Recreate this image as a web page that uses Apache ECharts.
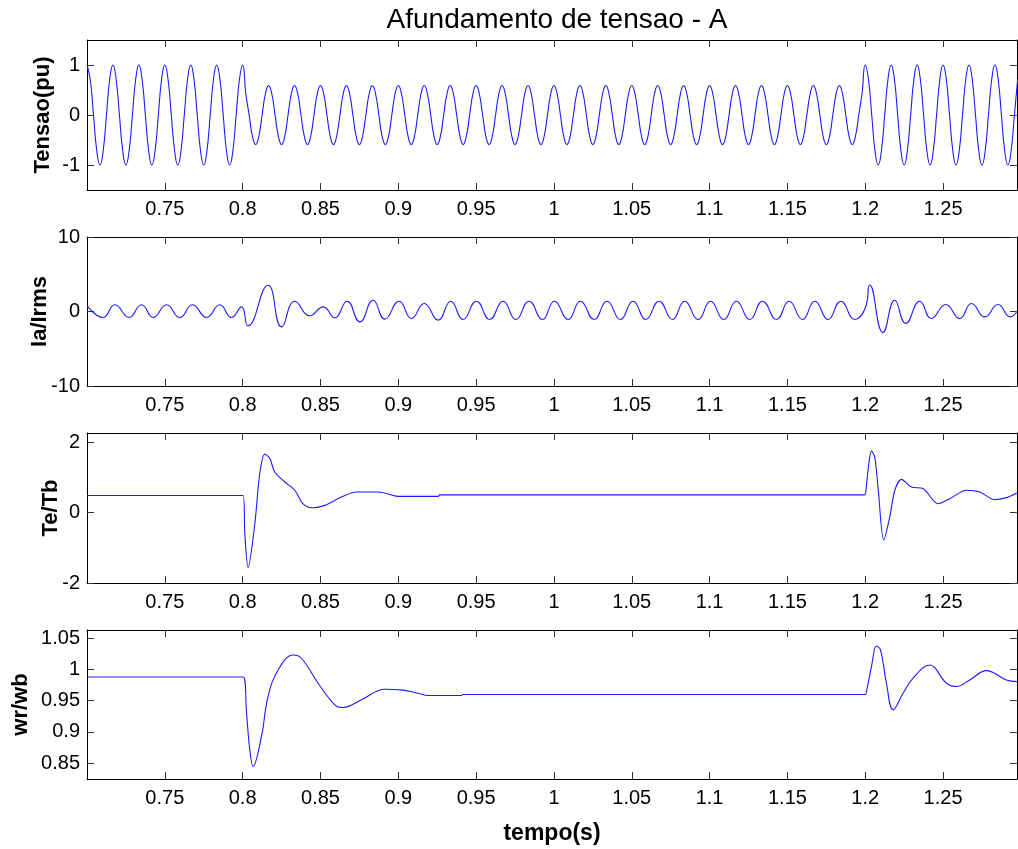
<!DOCTYPE html>
<html>
<head>
<meta charset="utf-8">
<script src="https://cdn.jsdelivr.net/npm/echarts@6/dist/echarts.min.js"></script>
<style>
html,body{margin:0;padding:0;background:#fff;}
#chart{width:1018px;height:849px;}
</style>
</head>
<body>
<div id="chart"></div>
<script>
// ---------- DATA ----------
const titleText = 'Afundamento de tensao - A';
const xName = 'tempo(s)';
const yNames = ['Tensao(pu)', 'Ia/Irms', 'Te/Tb', 'wr/wb'];
const xTicks = [0.75, 0.8, 0.85, 0.9, 0.95, 1, 1.05, 1.1, 1.15, 1.2, 1.25];
const yTicks1 = [-1, 0, 1];
const yTicks2 = [-10, 0, 10];
const yTicks3 = [-2, 0, 2];
const yTicks4 = [0.85, 0.9, 0.95, 1, 1.05];

// Voltage (pu), sampled every 1/8 cycle of 60 Hz starting at t = 0.7 s
const voltageStart = 0.7;
const voltageStep = 1 / 480;
const voltage = [
  1,0.71,0,-0.71,-1,-0.71,0,0.71,
  1,0.71,0,-0.71,-1,-0.71,0,0.71,
  1,0.71,0,-0.71,-1,-0.71,0,0.71,
  1,0.71,0,-0.71,-1,-0.71,0,0.71,
  1,0.71,0,-0.71,-1,-0.71,0,0.71,
  1,0.71,0,-0.71,-1,-0.71,0,0.71,
  1,
  0.42,0,-0.42,-0.59,-0.42,0,0.42,
  0.59,0.42,0,-0.42,-0.59,-0.42,0,0.42,
  0.59,0.42,0,-0.42,-0.59,-0.42,0,0.42,
  0.59,0.42,0,-0.42,-0.59,-0.42,0,0.42,
  0.59,0.42,0,-0.42,-0.59,-0.42,0,0.42,
  0.59,0.42,0,-0.42,-0.59,-0.42,0,0.42,
  0.59,0.42,0,-0.42,-0.59,-0.42,0,0.42,
  0.59,0.42,0,-0.42,-0.59,-0.42,0,0.42,
  0.59,0.42,0,-0.42,-0.59,-0.42,0,0.42,
  0.59,0.42,0,-0.42,-0.59,-0.42,0,0.42,
  0.59,0.42,0,-0.42,-0.59,-0.42,0,0.42,
  0.59,0.42,0,-0.42,-0.59,-0.42,0,0.42,
  0.59,0.42,0,-0.42,-0.59,-0.42,0,0.42,
  0.59,0.42,0,-0.42,-0.59,-0.42,0,0.42,
  0.59,0.42,0,-0.42,-0.59,-0.42,0,0.42,
  0.59,0.42,0,-0.42,-0.59,-0.42,0,0.42,
  0.59,0.42,0,-0.42,-0.59,-0.42,0,0.42,
  0.59,0.42,0,-0.42,-0.59,-0.42,0,0.42,
  0.59,0.42,0,-0.42,-0.59,-0.42,0,0.42,
  0.59,0.42,0,-0.42,-0.59,-0.42,0,0.42,
  0.59,0.42,0,-0.42,-0.59,-0.42,0,0.42,
  0.59,0.42,0,-0.42,-0.59,-0.42,0,0.42,
  0.59,0.42,0,-0.42,-0.59,-0.42,0,0.42,
  0.59,0.42,0,-0.42,-0.59,-0.42,0,0.42,
  1,0.71,0,-0.71,-1,-0.71,0,0.71,
  1,0.71,0,-0.71,-1,-0.71,0,0.71,
  1,0.71,0,-0.71,-1,-0.71,0,0.71,
  1,0.71,0,-0.71,-1,-0.71,0,0.71,
  1,0.71,0,-0.71,-1,-0.71,0,0.71,
  1,0.71,0,-0.71,-1,-0.71,0,0.71
];

// Current Ia/Irms: peaks and troughs
const currentT = [
  0.7000,0.7103,0.7179,0.7270,0.7350,0.7425,0.7511,0.7596,0.7678,0.7768,0.7853,0.7928,
  0.7993,0.8034,0.8163,0.8250,0.8335,0.8431,0.8517,0.8592,0.8671,0.8753,0.8838,0.8913,
  0.9005,0.9085,0.9166,0.9256,0.9337,0.9416,0.9502,0.9587,0.9673,0.9755,0.9840,0.9926,
  1.0003,1.0091,1.0170,1.0258,1.0341,1.0427,1.0508,1.0590,1.0675,1.0761,1.0840,1.0926,
  1.1006,1.1091,1.1172,1.1258,1.1340,1.1430,1.1511,1.1597,1.1676,1.1761,1.1843,1.1933,
  1.1999,1.2029,1.2114,1.2190,1.2260,1.2350,1.2425,1.2517,1.2607,1.2682,1.2768,1.2853,
  1.2932,1.2975
];
const currentV = [
  0.80,-0.80,0.90,-0.80,0.90,-0.80,0.90,-0.80,0.90,-0.80,0.90,-0.80,
  0.62,-1.93,3.52,-2.06,1.38,-0.58,0.62,-0.85,1.38,-1.39,1.51,-1.03,
  1.38,-0.94,1.07,-1.16,1.38,-1.07,1.38,-1.07,1.38,-1.07,1.38,-1.07,
  1.38,-1.07,1.38,-1.07,1.38,-1.07,1.38,-1.07,1.38,-1.07,1.38,-1.07,
  1.38,-1.07,1.38,-1.07,1.38,-1.07,1.38,-1.07,1.38,-1.07,1.38,-1.07,
  0.40,3.55,-2.83,1.51,-1.60,1.38,-0.94,0.94,-0.94,1.07,-0.72,0.94,
  -0.72,0.00
];

// Electromagnetic torque Te/Tb
const torqueT = [
  0.7000,0.8003,0.8014,0.8035,0.8078,0.8110,0.8142,0.8174,0.8206,0.8271,0.8335,0.8388,
  0.8453,0.8528,0.8635,0.8731,0.8870,0.8945,0.8999,0.9256,0.9266,1.1995,1.2003,1.2018,
  1.2040,1.2061,1.2082,1.2119,1.2157,1.2190,1.2233,1.2297,1.2371,1.2468,1.2543,1.2650,
  1.2736,1.2832,1.2907,1.2975
];
const torqueV = [
  0.49,0.49,-0.60,-1.56,-0.32,1.12,1.67,1.55,1.16,0.875,0.64,0.255,
  0.14,0.21,0.445,0.59,0.59,0.52,0.465,0.465,0.51,0.51,0.59,1.21,
  1.76,1.59,0.73,-0.78,-0.13,0.64,0.95,0.73,0.69,0.255,0.40,0.64,
  0.59,0.37,0.43,0.56
];

// Rotor speed wr/wb
const speedT = [
  0.7000,0.8003,0.8025,0.8046,0.8067,0.8121,0.8163,0.8228,0.8324,0.8378,0.8485,0.8592,
  0.8645,0.8763,0.8913,0.9020,0.9127,0.9191,0.9406,0.9416,1.2000,1.2008,1.2040,1.2072,
  1.2098,1.2136,1.2179,1.2243,1.2307,1.2414,1.2522,1.2586,1.2671,1.2779,1.2907,1.2975
];
const speedV = [
  0.988,0.988,0.930,0.871,0.8446,0.8926,0.9566,0.9993,1.0233,1.018,0.978,0.9433,
  0.939,0.9513,0.9684,0.9673,0.962,0.9582,0.9582,0.960,0.960,0.9646,1.0046,1.0377,
  1.0313,0.978,0.9353,0.962,0.986,1.0073,0.978,0.9726,0.9833,0.9982,0.9833,0.9806
];

// ---------- CHART ----------
const X_MIN = 0.7, X_MAX = 1.2975;
const FONT = 'Liberation Sans, Arial, sans-serif';
const grids = [
  { top: 40, height: 150 },
  { top: 237, height: 149 },
  { top: 433, height: 150 },
  { top: 630, height: 149 }
];
const yRanges = [
  { min: -1.5, max: 1.5, ticks: yTicks1, gap: 33 },
  { min: -10, max: 10, ticks: yTicks2, gap: 36 },
  { min: -2, max: 2.27, ticks: yTicks3, gap: 25 },
  { min: 0.8244, max: 1.0633, ticks: yTicks4, gap: 55 }
];

const lineCol = '#000';
const xAxes = [], yAxes = [];
grids.forEach((g, i) => {
  const tickStyle = { show: true, inside: true, length: 7, lineStyle: { color: '#333', width: 1 } };
  xAxes.push({
    type: 'value', gridIndex: i, min: X_MIN, max: X_MAX, position: 'bottom',
    axisLine: { show: true, onZero: false, lineStyle: { color: lineCol, width: 1 } },
    axisTick: Object.assign({ customValues: xTicks }, tickStyle),
    axisLabel: { customValues: xTicks, color: '#000', fontSize: 20, fontFamily: FONT, margin: 9 },
    splitLine: { show: false },
    name: i === 3 ? xName : '', nameLocation: 'middle', nameGap: 43, nameMoveOverlap: false,
    nameTextStyle: { color: '#000', fontSize: 23, fontWeight: 'bold', fontFamily: FONT }
  });
  xAxes.push({
    type: 'value', gridIndex: i, min: X_MIN, max: X_MAX, position: 'top',
    axisLine: { show: true, onZero: false, lineStyle: { color: lineCol, width: 1 } },
    axisTick: Object.assign({ customValues: xTicks }, tickStyle),
    axisLabel: { show: false }, splitLine: { show: false }
  });
  const r = yRanges[i];
  yAxes.push({
    type: 'value', gridIndex: i, min: r.min, max: r.max, position: 'left',
    axisLine: { show: true, onZero: false, lineStyle: { color: lineCol, width: 1 } },
    axisTick: Object.assign({ customValues: r.ticks }, tickStyle),
    axisLabel: { customValues: r.ticks, color: '#000', fontSize: 20, fontFamily: FONT, margin: 7 },
    splitLine: { show: false },
    name: yNames[i], nameLocation: 'middle', nameGap: r.gap, nameMoveOverlap: false,
    nameTextStyle: { color: '#000', fontSize: 22, fontWeight: 'bold', fontFamily: FONT }
  });
  yAxes.push({
    type: 'value', gridIndex: i, min: r.min, max: r.max, position: 'right',
    axisLine: { show: true, onZero: false, lineStyle: { color: lineCol, width: 1 } },
    axisTick: Object.assign({ customValues: r.ticks }, tickStyle),
    axisLabel: { show: false }, splitLine: { show: false }
  });
});

const pairs = (ts, vs) => ts.map((t, k) => [t, vs[k]]);
const voltagePairs = voltage.map((v, k) => [voltageStart + k * voltageStep, v]);

const mk = (data, idx, smooth) => ({
  type: 'line', xAxisIndex: idx * 2, yAxisIndex: idx * 2, data: data,
  showSymbol: false, smooth: smooth, clip: true,
  lineStyle: { color: '#1a1aff', width: 1.1 }, itemStyle: { color: '#1a1aff' }
});

const option = {
  animation: false,
  backgroundColor: '#fff',
  title: {
    text: titleText, left: 552, top: 1, textAlign: 'center',
    textStyle: { color: '#000', fontSize: 28, fontWeight: 'normal', fontFamily: FONT }
  },
  grid: grids.map(g => ({ left: 87, right: 1, top: g.top, height: g.height, containLabel: false })),
  xAxis: xAxes,
  yAxis: yAxes,
  series: [
    mk(voltagePairs, 0, 0.5),
    mk(pairs(currentT, currentV), 1, 0.5),
    mk(pairs(torqueT, torqueV), 2, 0.3),
    mk(pairs(speedT, speedV), 3, 0.4)
  ]
};

const chart = echarts.init(document.getElementById('chart'), null, { renderer: 'canvas' });
chart.setOption(option);
</script>
</body>
</html>
